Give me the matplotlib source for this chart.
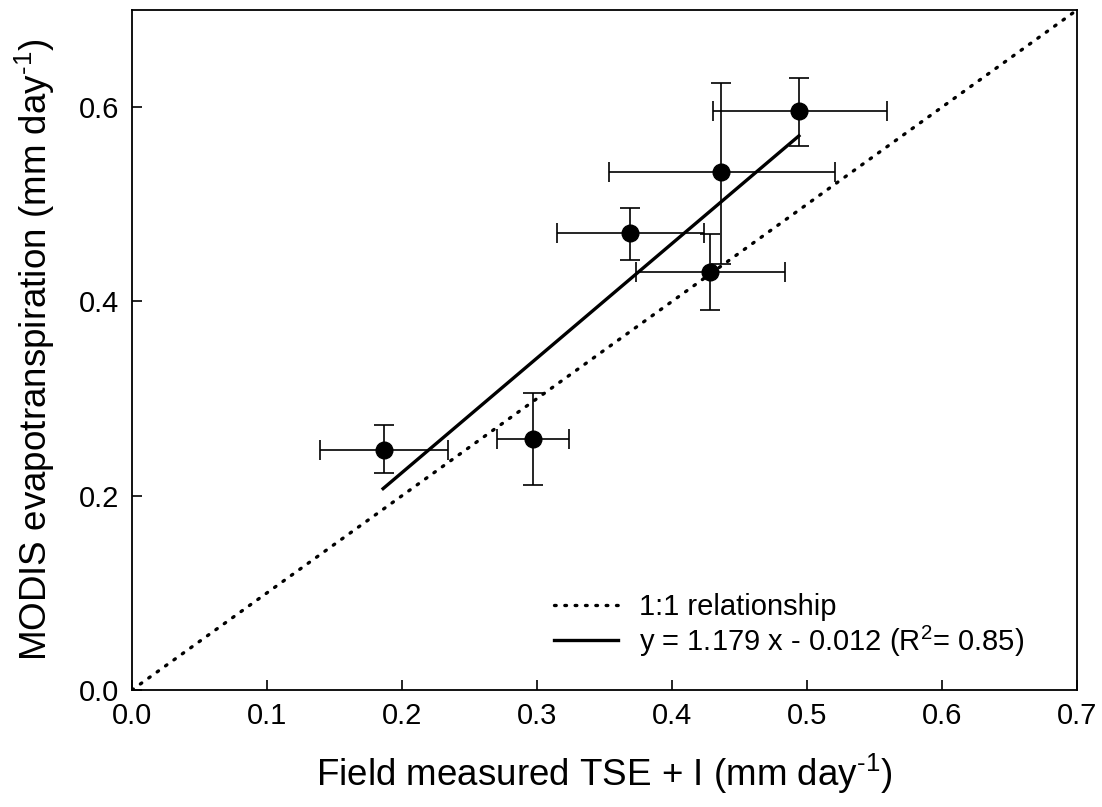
import matplotlib
matplotlib.use("Agg")
import matplotlib.pyplot as plt
import numpy as np

plt.rcParams['font.family'] = ['Liberation Sans', 'DejaVu Sans']
plt.rcParams['mathtext.fontset'] = 'custom'
plt.rcParams['mathtext.rm'] = 'Liberation Sans'
plt.rcParams['mathtext.it'] = 'Liberation Sans'

field_x = [0.187, 0.297, 0.369, 0.428, 0.436, 0.494]
modis_y = [0.247, 0.258, 0.470, 0.430, 0.533, 0.596]
x_low = [0.139, 0.270, 0.315, 0.373, 0.353, 0.430]
x_high = [0.234, 0.324, 0.424, 0.484, 0.521, 0.559]
y_low = [0.223, 0.211, 0.443, 0.391, 0.439, 0.560]
y_high = [0.273, 0.306, 0.496, 0.469, 0.625, 0.630]

slope = 1.179
intercept = -0.012
fit_range = [0.186, 0.494]
one_to_one = [0.0, 0.7]

xticks = [0.0, 0.1, 0.2, 0.3, 0.4, 0.5, 0.6, 0.7]
yticks = [0.0, 0.2, 0.4, 0.6]

fig = plt.figure(figsize=(11.02, 8.07), dpi=100)
ax = fig.add_axes([132/1102, 117/807, 945/1102, 680/807])

x = np.array(field_x)
y = np.array(modis_y)
xerr = np.array([x - np.array(x_low), np.array(x_high) - x])
yerr = np.array([y - np.array(y_low), np.array(y_high) - y])

ax.plot(one_to_one, one_to_one, color='black', lw=2.4, linestyle=(0, (0.5, 2.6)),
        dash_capstyle='round', label='1:1 relationship', zorder=2)
fx = np.array(fit_range)
ax.plot(fx, slope * fx + intercept, color='black', lw=2.4,
        label='y = 1.179 x - 0.012 (R$^2$= 0.85)', zorder=3)
ax.errorbar(x, y, xerr=xerr, yerr=yerr, fmt='o', color='black', ms=12,
            ecolor='black', elinewidth=1.2, capsize=7, capthick=1.2, zorder=4)

ax.set_xlim(0, 0.7)
ax.set_ylim(0, 0.7)
ax.set_xticks(xticks)
ax.set_xticklabels([f'{t:.1f}' for t in xticks])
ax.set_yticks(yticks)
ax.set_yticklabels([f'{t:.1f}' for t in yticks])
ax.tick_params(direction='in', length=7, width=1.2, labelsize=21, pad=9)
for s in ax.spines.values():
    s.set_linewidth(1.3)

ax.set_xlabel(r'Field measured TSE + I (mm day$^{\text{-}1}$)', fontsize=26.5, labelpad=15)
ax.set_ylabel(r'MODIS evapotranspiration (mm day$^{\text{-}1}$)', fontsize=26.5, labelpad=16)

ax.legend(loc='upper left', bbox_to_anchor=(0.419, 0.181), frameon=False,
          fontsize=21, handlelength=2.2, handletextpad=0.7, labelspacing=0.08)

fig.savefig('out.png', dpi=100)
